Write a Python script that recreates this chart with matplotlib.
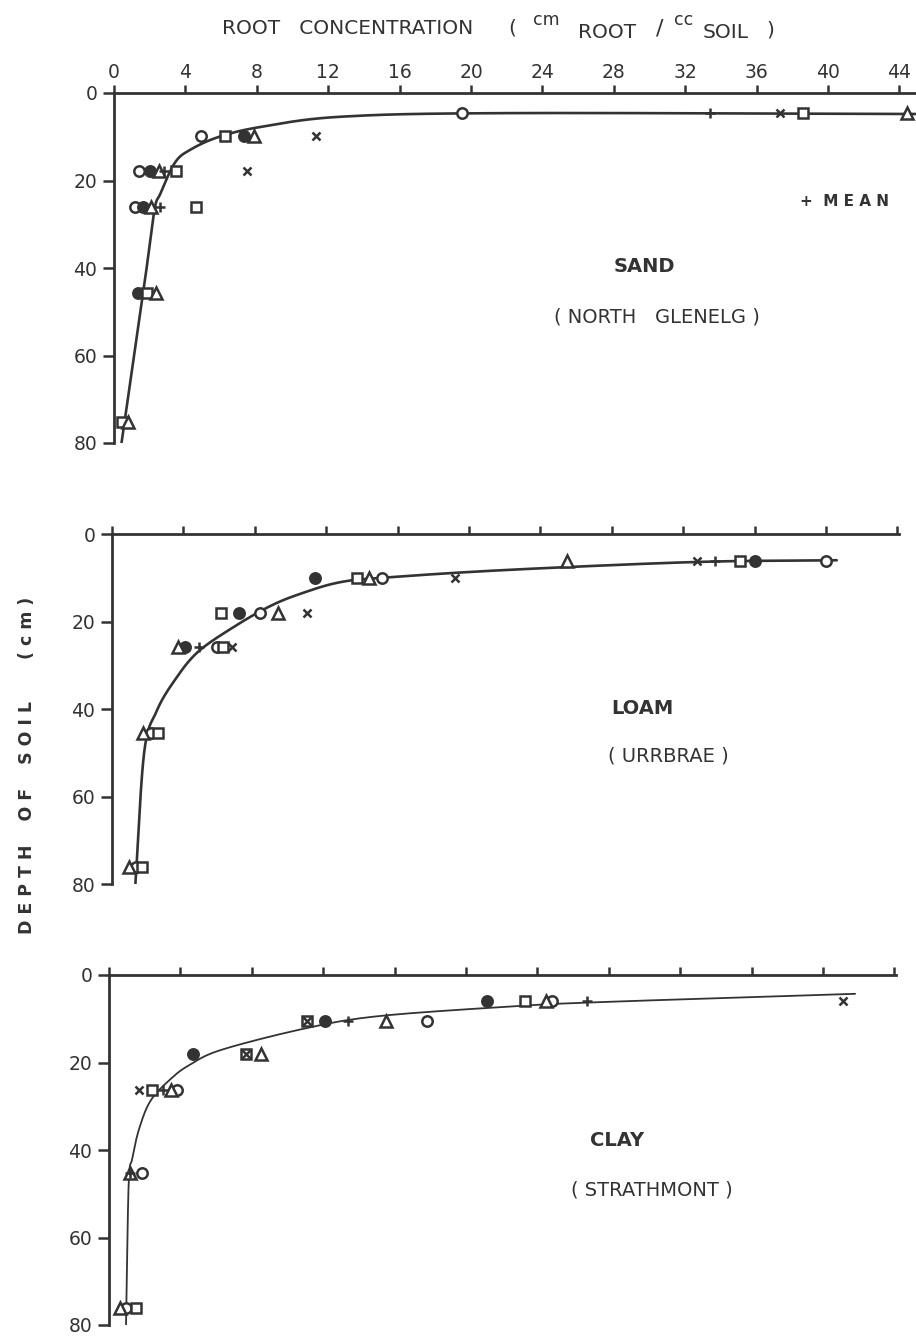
import numpy as np
import matplotlib
matplotlib.use("Agg")
import matplotlib.pyplot as plt

nan = np.nan
INK = "#333333"

# sampling depths (cm) for each soil, one entry per row of symbols
sand_depth = [4.6, 9.8, 17.8, 26.0, 45.7, 75.2]
loam_depth = [6.2, 10.0, 18.1, 25.8, 45.5, 76.0]
clay_depth = [5.9, 10.5, 18.1, 26.3, 45.3, 76.0]

# root concentration (cm root / cc soil) per replicate symbol, nan = not shown
sand_open_circle = [19.5, 4.9, 1.4, 1.2, nan, nan]
sand_dot = [nan, 7.3, 2.0, 1.6, 1.35, nan]
sand_square = [38.6, 6.2, 3.5, 4.6, 1.85, 0.45]
sand_triangle = [44.4, 7.85, 2.5, 2.1, 2.35, 0.8]
sand_cross = [37.3, 11.3, 7.45, nan, nan, nan]
sand_mean = [33.4, nan, 2.8, 2.6, nan, nan]

loam_open_circle = [40.0, 15.1, 8.3, 5.9, 2.2, 1.35]
loam_dot = [36.0, 11.4, 7.1, 4.1, nan, nan]
loam_square = [35.2, 13.7, 6.1, 6.2, 2.6, 1.7]
loam_triangle = [25.5, 14.4, 9.3, 3.7, 1.75, 0.95]
loam_cross = [32.8, 19.2, 10.9, 6.7, nan, nan]
loam_mean = [33.8, nan, nan, 4.9, nan, nan]

clay_open_circle = [24.8, 17.8, nan, 3.8, 1.85, 0.95]
clay_dot = [21.2, 12.1, 4.7, nan, nan, nan]
clay_square = [23.3, 11.1, 7.7, 2.4, nan, 1.5]
clay_triangle = [24.5, 15.5, 8.5, 3.5, 1.2, 0.6]
clay_cross = [41.1, 11.1, 7.7, 1.7, nan, nan]
clay_mean = [26.8, 13.4, nan, 3.0, 1.2, nan]

# hand fitted curves (concentration, depth)
sand_curve_x = [0.4, 1.6, 1.96, 2.3, 2.6, 3.4, 4.26, 5.9, 8.3, 12.8, 22.0, 45.0]
sand_curve_d = [80.6, 46.6, 36.0, 26.0, 23.0, 16.0, 13.0, 10.0, 7.7, 5.4, 4.6, 4.8]
loam_curve_x = [1.3, 1.8, 2.5, 3.5, 4.8, 6.8, 8.85, 10.6, 12.8, 15.5, 22.2, 32.7, 40.6]
loam_curve_d = [80.7, 50.0, 40.5, 33.5, 27.0, 21.3, 16.5, 13.6, 11.0, 9.9, 8.2, 6.4, 6.0]
clay_curve_x = [0.95, 1.1, 1.3, 1.7, 2.35, 3.5, 4.5, 6.3, 11.0, 15.1, 22.5, 27.5, 41.8]
clay_curve_d = [81.0, 48.0, 42.0, 35.0, 28.6, 23.6, 20.6, 17.1, 12.2, 9.4, 7.2, 6.2, 4.3]

x_ticks = [0, 4, 8, 12, 16, 20, 24, 28, 32, 36, 40, 44]
y_ticks = [0, 20, 40, 60, 80]

W, H = 916, 1339
fig = plt.figure(figsize=(W / 100, H / 100), dpi=100)
plt.rcParams['font.family'] = ['DejaVu Sans']


def px_axes(left, top, right, bottom):
    return fig.add_axes([left / W, 1 - bottom / H, (right - left) / W, (bottom - top) / H])


def smooth(xs, ds, n=20):
    # catmull-rom through the read-off nodes, scaled roughly to screen units
    p = np.column_stack([np.array(xs) * 17.85, np.array(ds) * 4.375])
    p = np.vstack([2 * p[0] - p[1], p, 2 * p[-1] - p[-2]])
    out = []
    t = np.linspace(0, 1, n, endpoint=False)[:, None]
    for i in range(1, len(p) - 2):
        p0, p1, p2, p3 = p[i - 1], p[i], p[i + 1], p[i + 2]
        seg = 0.5 * ((2 * p1) + (-p0 + p2) * t + (2 * p0 - 5 * p1 + 4 * p2 - p3) * t ** 2
                     + (-p0 + 3 * p1 - 3 * p2 + p3) * t ** 3)
        out.append(seg)
    out.append(p[-2][None, :])
    out = np.vstack(out)
    return out[:, 0] / 17.85, out[:, 1] / 4.375


def draw_panel(ax, depth, series, curve_x, curve_d, xmax, lw, labels):
    cx, cd = smooth(curve_x, curve_d)
    ax.plot(cx, cd, color=INK, lw=lw, solid_capstyle='round', zorder=2)
    styles = [
        dict(marker='o', mfc='white', ms=7.5),
        dict(marker='o', mfc=INK, ms=7.5),
        dict(marker='s', mfc='white', ms=7.5),
        dict(marker='^', mfc='white', ms=8.5),
        dict(marker='x', mfc=INK, ms=5.5),
        dict(marker='+', mfc=INK, ms=7.5),
    ]
    for vals, st in zip(series, styles):
        ax.plot(vals, depth, ls='none', mec=INK, mew=1.8, zorder=3, **st)
    ax.set_xlim(0, xmax)
    ax.set_ylim(80, 0)
    ax.xaxis.tick_top()
    ax.set_xticks(x_ticks)
    ax.set_yticks(y_ticks)
    for s in ['right', 'bottom']:
        ax.spines[s].set_visible(False)
    for s in ['left', 'top']:
        ax.spines[s].set_linewidth(2.0)
        ax.spines[s].set_color(INK)
    ax.tick_params(axis='x', length=6, width=1.8, color=INK, labelsize=13.5,
                   labelcolor=INK, pad=2, labeltop=labels)
    ax.tick_params(axis='y', length=8, width=1.8, color=INK, labelsize=13.5,
                   labelcolor=INK, pad=4)
    ax.patch.set_alpha(0)


ax1 = px_axes(114, 93, 114 + 45.0 * 17.85, 443)
draw_panel(ax1, sand_depth,
           [sand_open_circle, sand_dot, sand_square, sand_triangle, sand_cross, sand_mean],
           sand_curve_x, sand_curve_d, 45.0, 1.9, True)

ax2 = px_axes(112, 534, 112 + 44.1 * 17.85, 884)
draw_panel(ax2, loam_depth,
           [loam_open_circle, loam_dot, loam_square, loam_triangle, loam_cross, loam_mean],
           loam_curve_x, loam_curve_d, 44.1, 1.9, False)

ax3 = px_axes(109, 975, 109 + 44.1 * 17.85, 1325)
draw_panel(ax3, clay_depth,
           [clay_open_circle, clay_dot, clay_square, clay_triangle, clay_cross, clay_mean],
           clay_curve_x, clay_curve_d, 44.1, 1.3, False)


def ftext(x, y, s, **kw):
    kw.setdefault('color', INK)
    kw.setdefault('va', 'center')
    fig.text(x / W, 1 - y / H, s, **kw)


# header (x axis title)
ftext(222, 28, "ROOT   CONCENTRATION", fontsize=14.5, ha='left')
ftext(512, 28, "(", fontsize=14.5, ha='center')
ftext(546, 20, "cm", fontsize=12.5, ha='center')
ftext(607, 33, "ROOT", fontsize=14.5, ha='center')
ftext(660, 29, "/", fontsize=16, ha='center')
ftext(684, 20, "cc", fontsize=12.5, ha='center')
ftext(726, 33, "SOIL", fontsize=14.5, ha='center')
ftext(770, 30, ")", fontsize=14.5, ha='center')

# y axis title
ftext(27, 765, "D E P T H    O F    S O I L       ( c m )", fontsize=12.5,
      ha='center', rotation=90, weight='bold')

# panel labels
ftext(845, 202, "+  M E A N", fontsize=11, ha='center', weight='bold')
ftext(644, 267, "SAND", fontsize=14, ha='center', weight='bold')
ftext(657, 317, "( NORTH   GLENELG )", fontsize=14, ha='center')
ftext(642, 708, "LOAM", fontsize=14, ha='center', weight='bold')
ftext(668, 756, "( URRBRAE )", fontsize=14, ha='center')
ftext(617, 1140, "CLAY", fontsize=14, ha='center', weight='bold')
ftext(652, 1190, "( STRATHMONT )", fontsize=14, ha='center')

fig.savefig("out.png", dpi=100)
